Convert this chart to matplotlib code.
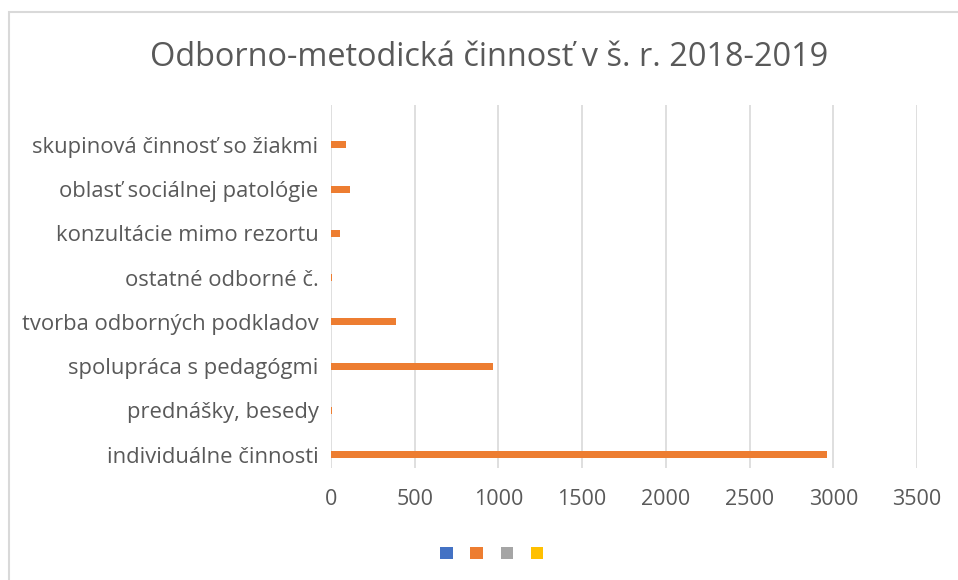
import matplotlib.pyplot as plt
from matplotlib.patches import Rectangle, Patch

# data (bottom -> top, as drawn)
categories = ["individuálne činnosti", "prednášky, besedy", "spolupráca s pedagógmi",
              "tvorba odborných podkladov", "ostatné odborné č.", "konzultácie mimo rezortu",
              "oblasť sociálnej patológie", "skupinová činnosť so žiakmi"]
values = [2960, 5, 966, 388, 3, 52, 115, 90]
xticks = [0, 500, 1000, 1500, 2000, 2500, 3000, 3500]
series_colors = ["#4472C4", "#ED7D31", "#A5A5A5", "#FFC000"]

plt.rcParams['font.family'] = ['Open Sans', 'DejaVu Sans']
txt = '#595959'

fig = plt.figure(figsize=(9.58, 5.8), dpi=100)
# light chart border
fig.patches.append(Rectangle((9 / 958, -0.1), 1.2, 1 - 12 / 580 + 0.1, transform=fig.transFigure,
                             fill=False, edgecolor='#D9D9D9', linewidth=1.5))

ax = fig.add_axes([331 / 958, 1 - 468 / 580, 586 / 958, 363 / 580])
ypos = list(range(len(categories)))
ax.barh(ypos, values, height=0.16, color=series_colors[1], zorder=3)
ax.set_xlim(0, 3500)
ax.set_ylim(-0.3, 7.9)
ax.set_xticks(xticks)
ax.set_yticks(ypos)
ax.set_yticklabels(categories)
ax.grid(axis='x', color='#D9D9D9', linewidth=1.2, zorder=0)
for s in ax.spines.values():
    s.set_visible(False)
ax.tick_params(axis='y', length=0, pad=9, labelsize=15.8, labelcolor=txt)
ax.tick_params(axis='x', length=0, pad=15, labelsize=15.5, labelcolor=txt)

fig.text(489 / 958, 1 - 58 / 580, "Odborno-metodická činnosť v š. r. 2018-2019",
         ha='center', va='center', fontsize=23.4, color=txt)

handles = [Patch(facecolor=c) for c in series_colors]
fig.legend(handles, [' '] * 4, loc='center', bbox_to_anchor=(495.5 / 958, 1 - 555 / 580),
           ncol=4, frameon=False, handlelength=0.75, handleheight=0.75,
           handletextpad=0.2, columnspacing=0.6, fontsize=12)

fig.savefig('out.png', dpi=100)
